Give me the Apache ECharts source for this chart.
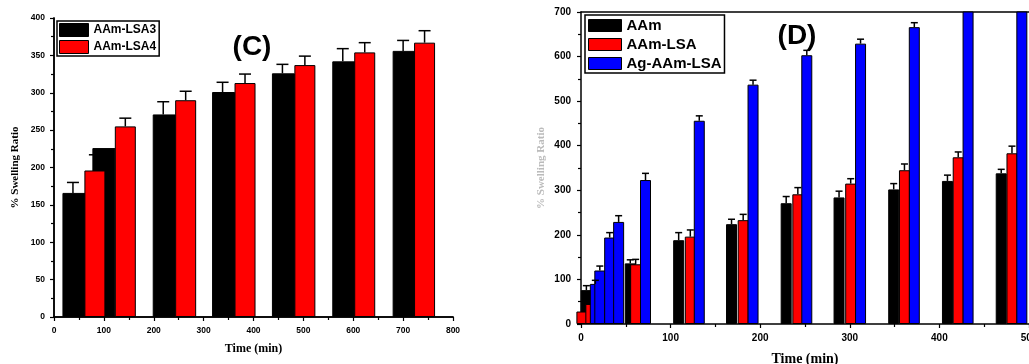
<!DOCTYPE html>
<html>
<head>
<meta charset="utf-8">
<title>Swelling ratio</title>
<script src="https://cdn.jsdelivr.net/npm/echarts@6/dist/echarts.min.js"></script>
<style>
  html, body { margin: 0; padding: 0; background: #fff; }
  #main { width: 1029px; height: 364px; }
</style>
</head>
<body>
<div id="main"></div>
<script>
// panel (C)
var timeLSA3 = [38, 98, 219, 338, 458, 579, 700];
var swellLSA3 = [166, 226, 271, 301, 326, 342, 356];
var errLSA3 = [14, 0, 17, 13, 12, 17, 14];
var timeLSA4 = [82, 143, 264, 383, 503, 623, 743];
var swellLSA4 = [196, 255, 290, 313, 337, 354, 367];
var errLSA4 = [21, 11, 12, 12, 12, 13, 16];
var ticksCx = [0, 100, 200, 300, 400, 500, 600, 700, 800];
var ticksCy = [0, 50, 100, 150, 200, 250, 300, 350, 400];

// panel (D)
var timeAAm = [6, 55, 109, 168, 229, 288, 349, 409, 469];
var swellAAm = [76, 136, 188, 224, 271, 284, 302, 321, 338];
var errAAm = [10, 8, 17, 11, 15, 14, 13, 13, 9];
var timeLSA = [1, 11, 61, 122, 181, 242, 301, 361, 421, 481];
var swellLSA = [28, 45, 134, 196, 233, 291, 315, 345, 374, 383];
var errLSA = [0, 0, 11, 15, 13, 15, 11, 14, 12, 16];
var timeAg = [16, 21, 32, 42, 72, 132, 192, 252, 312, 372, 432, 492];
var swellAg = [90, 120, 194, 229, 323, 456, 537, 603, 629, 666, 760, 760];
var errAg = [8, 10, 11, 14, 15, 11, 10, 11, 10, 10, 0, 0];
var ticksDx = [0, 100, 200, 300, 400, 500];
var ticksDy = [0, 100, 200, 300, 400, 500, 600, 700];

var sans = 'Liberation Sans, Arial, sans-serif';
var serif = 'Liberation Serif, Times New Roman, serif';
var myChart = echarts.init(document.getElementById('main'), null, { renderer: 'canvas' });

function pairs(xs, ys) {
	return xs.map(function (x, i) { return [x, ys[i]]; });
}

function barSeries(name, xs, ys, color, width, xi, yi) {
	return {
		name: name, type: 'bar', xAxisIndex: xi, yAxisIndex: yi,
		data: pairs(xs, ys), barWidth: width, barGap: '-100%',
		itemStyle: { color: color, borderColor: '#000', borderWidth: 1 },
		clip: true
	};
}

function errSeries(xs, ys, es, capHalf, xi, yi) {
	return {
		type: 'custom', xAxisIndex: xi, yAxisIndex: yi, z: 5, clip: true,
		encode: { x: 0, y: 1 },
		data: xs.map(function (x, i) { return [x, ys[i], es[i]]; }),
		renderItem: function (params, api) {
			var x = api.value(0), y = api.value(1), e = api.value(2);
			if (!e) return null;
			var p0 = api.coord([x, y]);
			var p1 = api.coord([x, y + e]);
			var st = { stroke: '#000', lineWidth: 1.5 };
			return {
				type: 'group',
				children: [
					{ type: 'line', shape: { x1: p0[0], y1: p0[1], x2: p1[0], y2: p1[1] }, style: st },
					{ type: 'line', shape: { x1: p1[0] - capHalf, y1: p1[1], x2: p1[0] + capHalf, y2: p1[1] }, style: st }
				]
			};
		}
	};
}

function valueAxis(ticks, grid, pos, fontSize, margin, name, nameGap, nameSize, nameColor) {
	return {
		type: 'value', gridIndex: grid, position: pos,
		min: ticks[0], max: ticks[ticks.length - 1], interval: ticks[1] - ticks[0],
		name: name, nameLocation: 'middle', nameGap: nameGap,
		nameTextStyle: { fontFamily: serif, fontWeight: 'bold', fontSize: nameSize, color: nameColor },
		axisLine: { show: true, lineStyle: { color: '#000', width: 1.5 } },
		axisTick: { show: true, length: 4, lineStyle: { color: '#000', width: 1.2 } },
		minorTick: { show: true, splitNumber: 2, length: 3, lineStyle: { color: '#000', width: 1.2 } },
		axisLabel: { show: true, margin: margin, fontFamily: sans, fontWeight: 'bold', fontSize: fontSize, color: '#000' },
		splitLine: { show: false }
	};
}

function frameAxis(grid, pos, min, max) {
	return {
		type: 'value', gridIndex: grid, position: pos, min: min, max: max,
		axisLine: { show: true, lineStyle: { color: '#000', width: 1.5 } },
		axisTick: { show: false }, axisLabel: { show: false }, splitLine: { show: false }
	};
}

var option = {
	animation: false,
	backgroundColor: '#fff',
	grid: [
		{ left: 54, top: 18, width: 399, height: 299, outerBoundsMode: 'none' },
		{ left: 581, top: 12, width: 448, height: 312, outerBoundsMode: 'none' }
	],
	xAxis: [
		valueAxis(ticksCx, 0, 'bottom', 8.5, 9, 'Time (min)', 26, 12, '#000'),
		frameAxis(0, 'top', 0, 800),
		valueAxis(ticksDx, 1, 'bottom', 10, 9, 'Time (min)', 28, 14, '#000'),
		frameAxis(1, 'top', 0, 500)
	],
	yAxis: [
		valueAxis(ticksCy, 0, 'left', 8.5, 9, '% Swelling Ratio', 33, 11, '#000'),
		frameAxis(0, 'right', 0, 400),
		valueAxis(ticksDy, 1, 'left', 10, 10, '% Swelling Ratio', 34, 11, '#bbb')
	],
	legend: [
		{
			data: ['AAm-LSA3', 'AAm-LSA4'], orient: 'vertical', left: 57, top: 21,
			padding: [2, 3, 2, 2], itemWidth: 29, itemHeight: 13, itemGap: 3,
			borderColor: '#000', borderWidth: 1.5, icon: 'rect',
			itemStyle: { borderColor: '#000', borderWidth: 1 },
			textStyle: { fontFamily: sans, fontWeight: 'bold', fontSize: 12, color: '#000', lineHeight: 13 }
		},
		{
			data: ['AAm', 'AAm-LSA', 'Ag-AAm-LSA'], orient: 'vertical', left: 585, top: 15,
			padding: [3, 3, 2, 3], itemWidth: 33, itemHeight: 12, itemGap: 4,
			borderColor: '#000', borderWidth: 1.5, icon: 'rect',
			itemStyle: { borderColor: '#000', borderWidth: 1 },
			textStyle: { fontFamily: sans, fontWeight: 'bold', fontSize: 15, color: '#000', lineHeight: 12 }
		}
	],
	graphic: [
		{ type: 'text', x: 252, y: 47, style: { text: '(C)', font: 'bold 28px ' + sans, fill: '#000', align: 'center', verticalAlign: 'middle' } },
		{ type: 'text', x: 797, y: 36, style: { text: '(D)', font: 'bold 28px ' + sans, fill: '#000', align: 'center', verticalAlign: 'middle' } }
	],
	series: [
		barSeries('AAm-LSA3', timeLSA3, swellLSA3, '#000000', 23, 0, 0),
		barSeries('AAm-LSA4', timeLSA4, swellLSA4, '#ff0000', 21, 0, 0),
		errSeries(timeLSA3, swellLSA3, errLSA3, 6, 0, 0),
		errSeries(timeLSA4, swellLSA4, errLSA4, 6, 0, 0),
		barSeries('AAm', timeAAm, swellAAm, '#000000', 11, 2, 2),
		barSeries('AAm-LSA', timeLSA, swellLSA, '#ff0000', 11, 2, 2),
		barSeries('Ag-AAm-LSA', timeAg, swellAg, '#0000ff', 11, 2, 2),
		errSeries(timeAAm, swellAAm, errAAm, 3.5, 2, 2),
		errSeries(timeLSA, swellLSA, errLSA, 3.5, 2, 2),
		errSeries(timeAg, swellAg, errAg, 3.5, 2, 2)
	]
};

myChart.setOption(option);
</script>
</body>
</html>
